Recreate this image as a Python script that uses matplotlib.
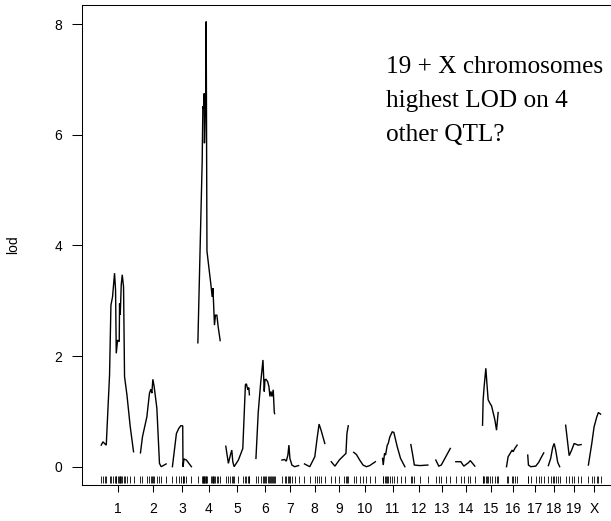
import matplotlib
matplotlib.use("Agg")
import matplotlib.pyplot as plt

# ---------------- data (positions in cM from chromosome start, LOD) -------------
chrom_names = ["1", "2", "3", "4", "5", "6", "7", "8", "9", "10",
               "11", "12", "13", "14", "15", "16", "17", "18", "19", "X"]
chrom_len = [126, 98, 73, 82.5, 88, 78, 62, 78, 61.5, 86,
             77, 78, 49, 81, 61.5, 62.5, 54.5, 41.5, 62.5, 44]

pos_1 = [0, 6.5, 12.7, 19.3, 32, 37.3, 43.5, 51.2, 55.1, 57.8, 62.8, 69.3, 70.5, 73.2, 77, 80.9, 85.9, 89.7, 98.9, 111.7, 124.4]
lod_1 = [0.39, 0.45, 0.42, 0.39, 1.66, 2.92, 3.07, 3.5, 3.2, 2.05, 2.29, 2.26, 2.95, 2.75, 3.29, 3.47, 3.25, 1.63, 1.30, 0.72, 0.27]

pos_2 = [0, 7.7, 24.6, 34.7, 40, 43.9, 47.7, 52.7, 63.1, 73.2, 79.7, 98.9]
lod_2 = [0.25, 0.54, 0.9, 1.33, 1.4, 1.33, 1.58, 1.45, 1.06, 0.06, 0.0, 0.05]

pos_3 = [0, 15.4, 24.3, 32, 39.7, 40.8, 44.7, 53.9, 73.2]
lod_3 = [0.0, 0.6, 0.69, 0.74, 0.74, 0.0, 0.14, 0.12, 0.0]

pos_4 = [0, 16.6, 19.3, 21.6, 24.3, 25.4, 28.1, 30.8, 32, 35, 51.2, 55.1, 57.8, 60.1, 63.9, 67.8, 73.2, 78.2, 85.9]
lod_4 = [2.24, 5.52, 6.52, 6.48, 6.75, 5.85, 6.39, 6.36, 8.05, 3.9, 3.25, 3.07, 3.23, 3.0, 2.56, 2.74, 2.74, 2.53, 2.28]

pos_5 = [0, 10, 16.6, 23.1, 27, 32, 48.5, 65.5, 75.5, 79.3, 84.7, 88.6, 90.9]
lod_5 = [0.37, 0.06, 0.19, 0.30, 0.09, 0.0, 0.12, 0.33, 1.48, 1.50, 1.39, 1.43, 1.3]

pos_6 = [3.1, 12, 21.2, 30.1, 35.1, 37.8, 41.6, 48.1, 53.1, 57, 60.9, 64.7, 69.7, 73.6, 75.1]
lod_6 = [0.15, 0.99, 1.51, 1.93, 1.36, 1.57, 1.58, 1.54, 1.45, 1.27, 1.36, 1.27, 1.39, 0.99, 0.96]

pos_7 = [0, 10.4, 16.9, 23.1, 27, 30.8, 38.5, 48.9, 64.3]
lod_7 = [0.12, 0.13, 0.1, 0.21, 0.39, 0.15, 0.03, 0.0, 0.02]

pos_8 = [0, 20.4, 39.7, 48.5, 56.2, 63.9, 78.2]
lod_8 = [0.05, 0.0, 0.18, 0.51, 0.77, 0.66, 0.42]

pos_9 = [0, 14.2, 30.8, 50, 56.6, 60.4, 65.5]
lod_9 = [0.09, 0.01, 0.12, 0.21, 0.24, 0.6, 0.74]

pos_10 = [0, 10.4, 23.1, 35.8, 48.9, 61.6, 83.5]
lod_10 = [0.26, 0.22, 0.12, 0.03, 0.0, 0.02, 0.09]

pos_11 = [0, 2.7, 7.7, 11.6, 18.1, 21.9, 28.1, 37.3, 43.5, 56.6, 69.3, 85.9]
lod_11 = [0.15, 0.03, 0.24, 0.21, 0.39, 0.42, 0.54, 0.63, 0.62, 0.36, 0.15, 0.0]

pos_12 = [7, 12.8, 20.5, 41.7, 72.5]
lod_12 = [0.4, 0.25, 0.03, 0.02, 0.03]

pos_13 = [0, 11.6, 21.2, 38.5, 55.8]
lod_13 = [0.12, 0.01, 0.03, 0.18, 0.33]

pos_14 = [3.1, 22.4, 33.9, 51.2, 58.9, 76.3]
lod_14 = [0.09, 0.09, 0.01, 0.07, 0.11, 0.01]

pos_15 = [0, 2.3, 6.2, 12.7, 17.7, 21.6, 28.1, 34.7, 47.4, 53.9, 60.1]
lod_15 = [0.75, 1.21, 1.45, 1.78, 1.45, 1.21, 1.15, 1.1, 0.85, 0.66, 0.98]

pos_16 = [5.8, 12, 27.4, 31.2, 37.8, 46.6]
lod_16 = [0.0, 0.18, 0.3, 0.27, 0.33, 0.39]

pos_17 = [0, 2.7, 11.6, 30.8, 42.4, 50, 61.6]
lod_17 = [0.21, 0.03, 0.0, 0.01, 0.08, 0.15, 0.25]

pos_18 = [0, 8.9, 16.6, 22.3, 28.1, 35.8, 43.5]
lod_18 = [0.02, 0.15, 0.35, 0.42, 0.3, 0.08, 0.0]

pos_19 = [0, 13.5, 23.1, 32.7, 48.1, 59.7]
lod_19 = [0.75, 0.2, 0.3, 0.42, 0.39, 0.4]

pos_X = [0, 13.1, 21.9, 32.3, 38.5, 47]
lod_X = [0.03, 0.42, 0.72, 0.9, 0.98, 0.95]

y_ticks = [0, 2, 4, 6, 8]
annotation = "19 + X chromosomes\nhighest LOD on 4\nother QTL?"
y_label = "lod"

all_pos = [pos_1, pos_2, pos_3, pos_4, pos_5, pos_6, pos_7, pos_8, pos_9, pos_10,
           pos_11, pos_12, pos_13, pos_14, pos_15, pos_16, pos_17, pos_18, pos_19, pos_X]
all_lod = [lod_1, lod_2, lod_3, lod_4, lod_5, lod_6, lod_7, lod_8, lod_9, lod_10,
           lod_11, lod_12, lod_13, lod_14, lod_15, lod_16, lod_17, lod_18, lod_19, lod_X]

GAP = 25.0       # cM between chromosomes (R/qtl style)
PAD = 76.0       # cM of blank space before first chromosome
CM_PER_PX = 3.85

# ---------------- figure ----------------
W, H = 611, 521
total = sum(chrom_len) + GAP * (len(chrom_len) - 1)
ax_w_px = (total + 2 * PAD) / CM_PER_PX
fig = plt.figure(figsize=(W / 100, H / 100), dpi=100)
ax = fig.add_axes([81.5 / W, 36.5 / H, ax_w_px / W, 479.5 / H])

sans = ["Liberation Sans", "DejaVu Sans"]
serif = ["Liberation Serif", "DejaVu Serif"]

offset = 0.0
mids = []
for p, l, L in zip(all_pos, all_lod, chrom_len):
    xs = [offset + v for v in p]
    ax.plot(xs, l, color="black", lw=1.0, solid_joinstyle="miter")
    ax.vlines(xs, -0.295, -0.163, color="black", lw=0.6)
    mids.append(offset + L / 2)
    offset += L + GAP

ax.set_xlim(-PAD, total + PAD)
ax.set_ylim(-0.322, 8.349)

ax.set_xticks(mids)
ax.set_xticklabels(chrom_names, family=sans, fontsize=10)
ax.set_yticks(y_ticks)
ax.set_yticklabels([str(v) for v in y_ticks], family=sans, fontsize=10)
ax.tick_params(axis="x", length=5.3, width=0.75, pad=7.5)
ax.tick_params(axis="y", length=7.2, width=0.75, pad=6.8)

for s in ["left", "bottom", "top"]:
    ax.spines[s].set_linewidth(0.75)
ax.spines["right"].set_visible(False)

fig.text(13 / W, 1 - 245 / H, y_label, rotation=90, ha="center", va="center",
         family=sans, fontsize=10)
fig.text(386 / W, 1 - 56 / H, annotation, ha="left", va="top",
         family=serif, fontsize=18.2, linespacing=1.7)

fig.savefig("out.png", dpi=100)
